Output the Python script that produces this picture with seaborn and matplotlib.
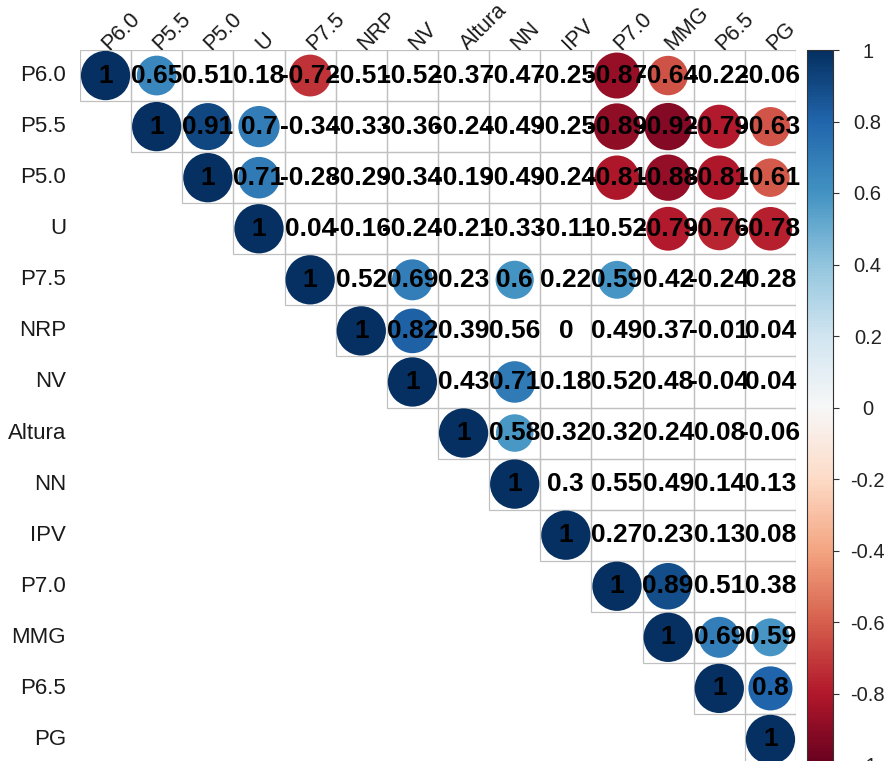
import numpy as np
import pandas as pd
import matplotlib
matplotlib.use("Agg")
import matplotlib.pyplot as plt
from matplotlib.colors import ListedColormap, Normalize
from matplotlib.cm import ScalarMappable
from matplotlib.patches import Rectangle
import seaborn as sns

# ---- data -------------------------------------------------------------
variables = ["P6.0", "P5.5", "P5.0", "U", "P7.5", "NRP", "NV", "Altura",
             "NN", "IPV", "P7.0", "MMG", "P6.5", "PG"]

# upper-triangle rows (diagonal first)
row_P60 = [1, 0.65, 0.51, 0.18, -0.72, -0.51, -0.52, -0.37, -0.47, -0.25, -0.87, -0.64, -0.22, -0.06]
row_P55 = [1, 0.91, 0.70, -0.34, -0.33, -0.36, -0.24, -0.49, -0.25, -0.89, -0.92, -0.79, -0.63]
row_P50 = [1, 0.71, -0.28, -0.29, -0.34, -0.19, -0.49, -0.24, -0.81, -0.88, -0.81, -0.61]
row_U = [1, 0.04, -0.16, -0.24, -0.21, -0.33, -0.11, -0.52, -0.79, -0.76, -0.78]
row_P75 = [1, 0.52, 0.69, 0.23, 0.60, 0.22, 0.59, 0.42, -0.24, 0.28]
row_NRP = [1, 0.82, 0.39, 0.56, 0.00, 0.49, 0.37, -0.01, 0.04]
row_NV = [1, 0.43, 0.71, 0.18, 0.52, 0.48, -0.04, 0.04]
row_Altura = [1, 0.58, 0.32, 0.32, 0.24, 0.08, -0.06]
row_NN = [1, 0.30, 0.55, 0.49, 0.14, 0.13]
row_IPV = [1, 0.27, 0.23, 0.13, 0.08]
row_P70 = [1, 0.89, 0.51, 0.38]
row_MMG = [1, 0.69, 0.59]
row_P65 = [1, 0.80]
row_PG = [1]

upper_rows = [row_P60, row_P55, row_P50, row_U, row_P75, row_NRP, row_NV,
              row_Altura, row_NN, row_IPV, row_P70, row_MMG, row_P65, row_PG]

sig_threshold = 0.57   # circles shown only for significant correlations
colorbar_ticks = [1, 0.8, 0.6, 0.4, 0.2, 0, -0.2, -0.4, -0.6, -0.8, -1]

# ---- build matrix -----------------------------------------------------
n = len(variables)
corr = np.full((n, n), np.nan)
for i, row in enumerate(upper_rows):
    for k, v in enumerate(row):
        corr[i, i + k] = v
        corr[i + k, i] = v
corr_df = pd.DataFrame(corr, index=variables, columns=variables)


def fmt(v):
    s = f"{v:.2f}".rstrip("0").rstrip(".")
    return "0" if s in ("-0", "") else s


labels = np.array([[fmt(v) for v in r] for r in corr])
mask = np.tril(np.ones((n, n), dtype=bool), k=-1)

# ---- figure -----------------------------------------------------------
sns.set_theme(style="white")
plt.rcParams["font.family"] = ["Liberation Sans", "DejaVu Sans"]

W, H = 886, 761
fig = plt.figure(figsize=(W / 100, H / 100), dpi=100)
ax = fig.add_axes([80 / W, 1 - 765 / H, 716 / W, 715 / H])

sns.heatmap(corr_df, mask=mask, cmap=ListedColormap(["white"]), cbar=False,
            linewidths=0, annot=labels, fmt="",
            annot_kws={"color": "black", "fontsize": 19, "fontweight": "bold",
                       "zorder": 4},
            ax=ax)

# cell borders only for the upper triangle
for i in range(n):
    for j in range(i, n):
        ax.add_patch(Rectangle((j, i), 1, 1, fill=False, edgecolor="#C0C0C0",
                               linewidth=0.9, zorder=1.5))

# circles
pts = []
for i in range(n):
    for j in range(i, n):
        r = corr[i, j]
        if abs(r) >= sig_threshold:
            pts.append({"x": j + 0.5, "y": i + 0.5, "r": r, "area": abs(r)})
pts = pd.DataFrame(pts)
sns.scatterplot(data=pts, x="x", y="y", hue="r", palette="RdBu",
                hue_norm=(-1, 1), size="area", sizes=(0, 35.5 ** 2),
                size_norm=(0, 1), linewidth=0, legend=False, zorder=2, ax=ax)

ax.set_xlim(0, n)
ax.set_ylim(n, 0)
ax.set_xlabel("")
ax.set_ylabel("")
ax.xaxis.tick_top()
ax.set_xticks(np.arange(n) + 0.5)
ax.set_yticks(np.arange(n) + 0.5)
ax.set_xticklabels(variables, rotation=45, ha="left", va="center",
                   rotation_mode="anchor", fontsize=15.5, color="#1a1a1a")
ax.set_yticklabels(variables, rotation=0, fontsize=16, color="#1a1a1a")
ax.tick_params(axis="x", length=0, pad=2)
ax.tick_params(axis="y", length=0, pad=10)
for s in ax.spines.values():
    s.set_visible(False)

# colorbar
cax = fig.add_axes([807 / W, 1 - 765 / H, 26 / W, 715 / H])
sm = ScalarMappable(norm=Normalize(-1, 1), cmap="RdBu")
cb = fig.colorbar(sm, cax=cax, ticks=colorbar_ticks)
cb.outline.set_edgecolor("#333333")
cb.outline.set_linewidth(0.8)
cb.ax.set_yticklabels([fmt(t) for t in colorbar_ticks], fontsize=14.5, color="#222222")
cb.ax.tick_params(length=4, width=0.8, color="#333333", pad=21)
for lab in cb.ax.get_yticklabels():
    lab.set_horizontalalignment("center")

fig.savefig("out.png", dpi=100, facecolor="white")
